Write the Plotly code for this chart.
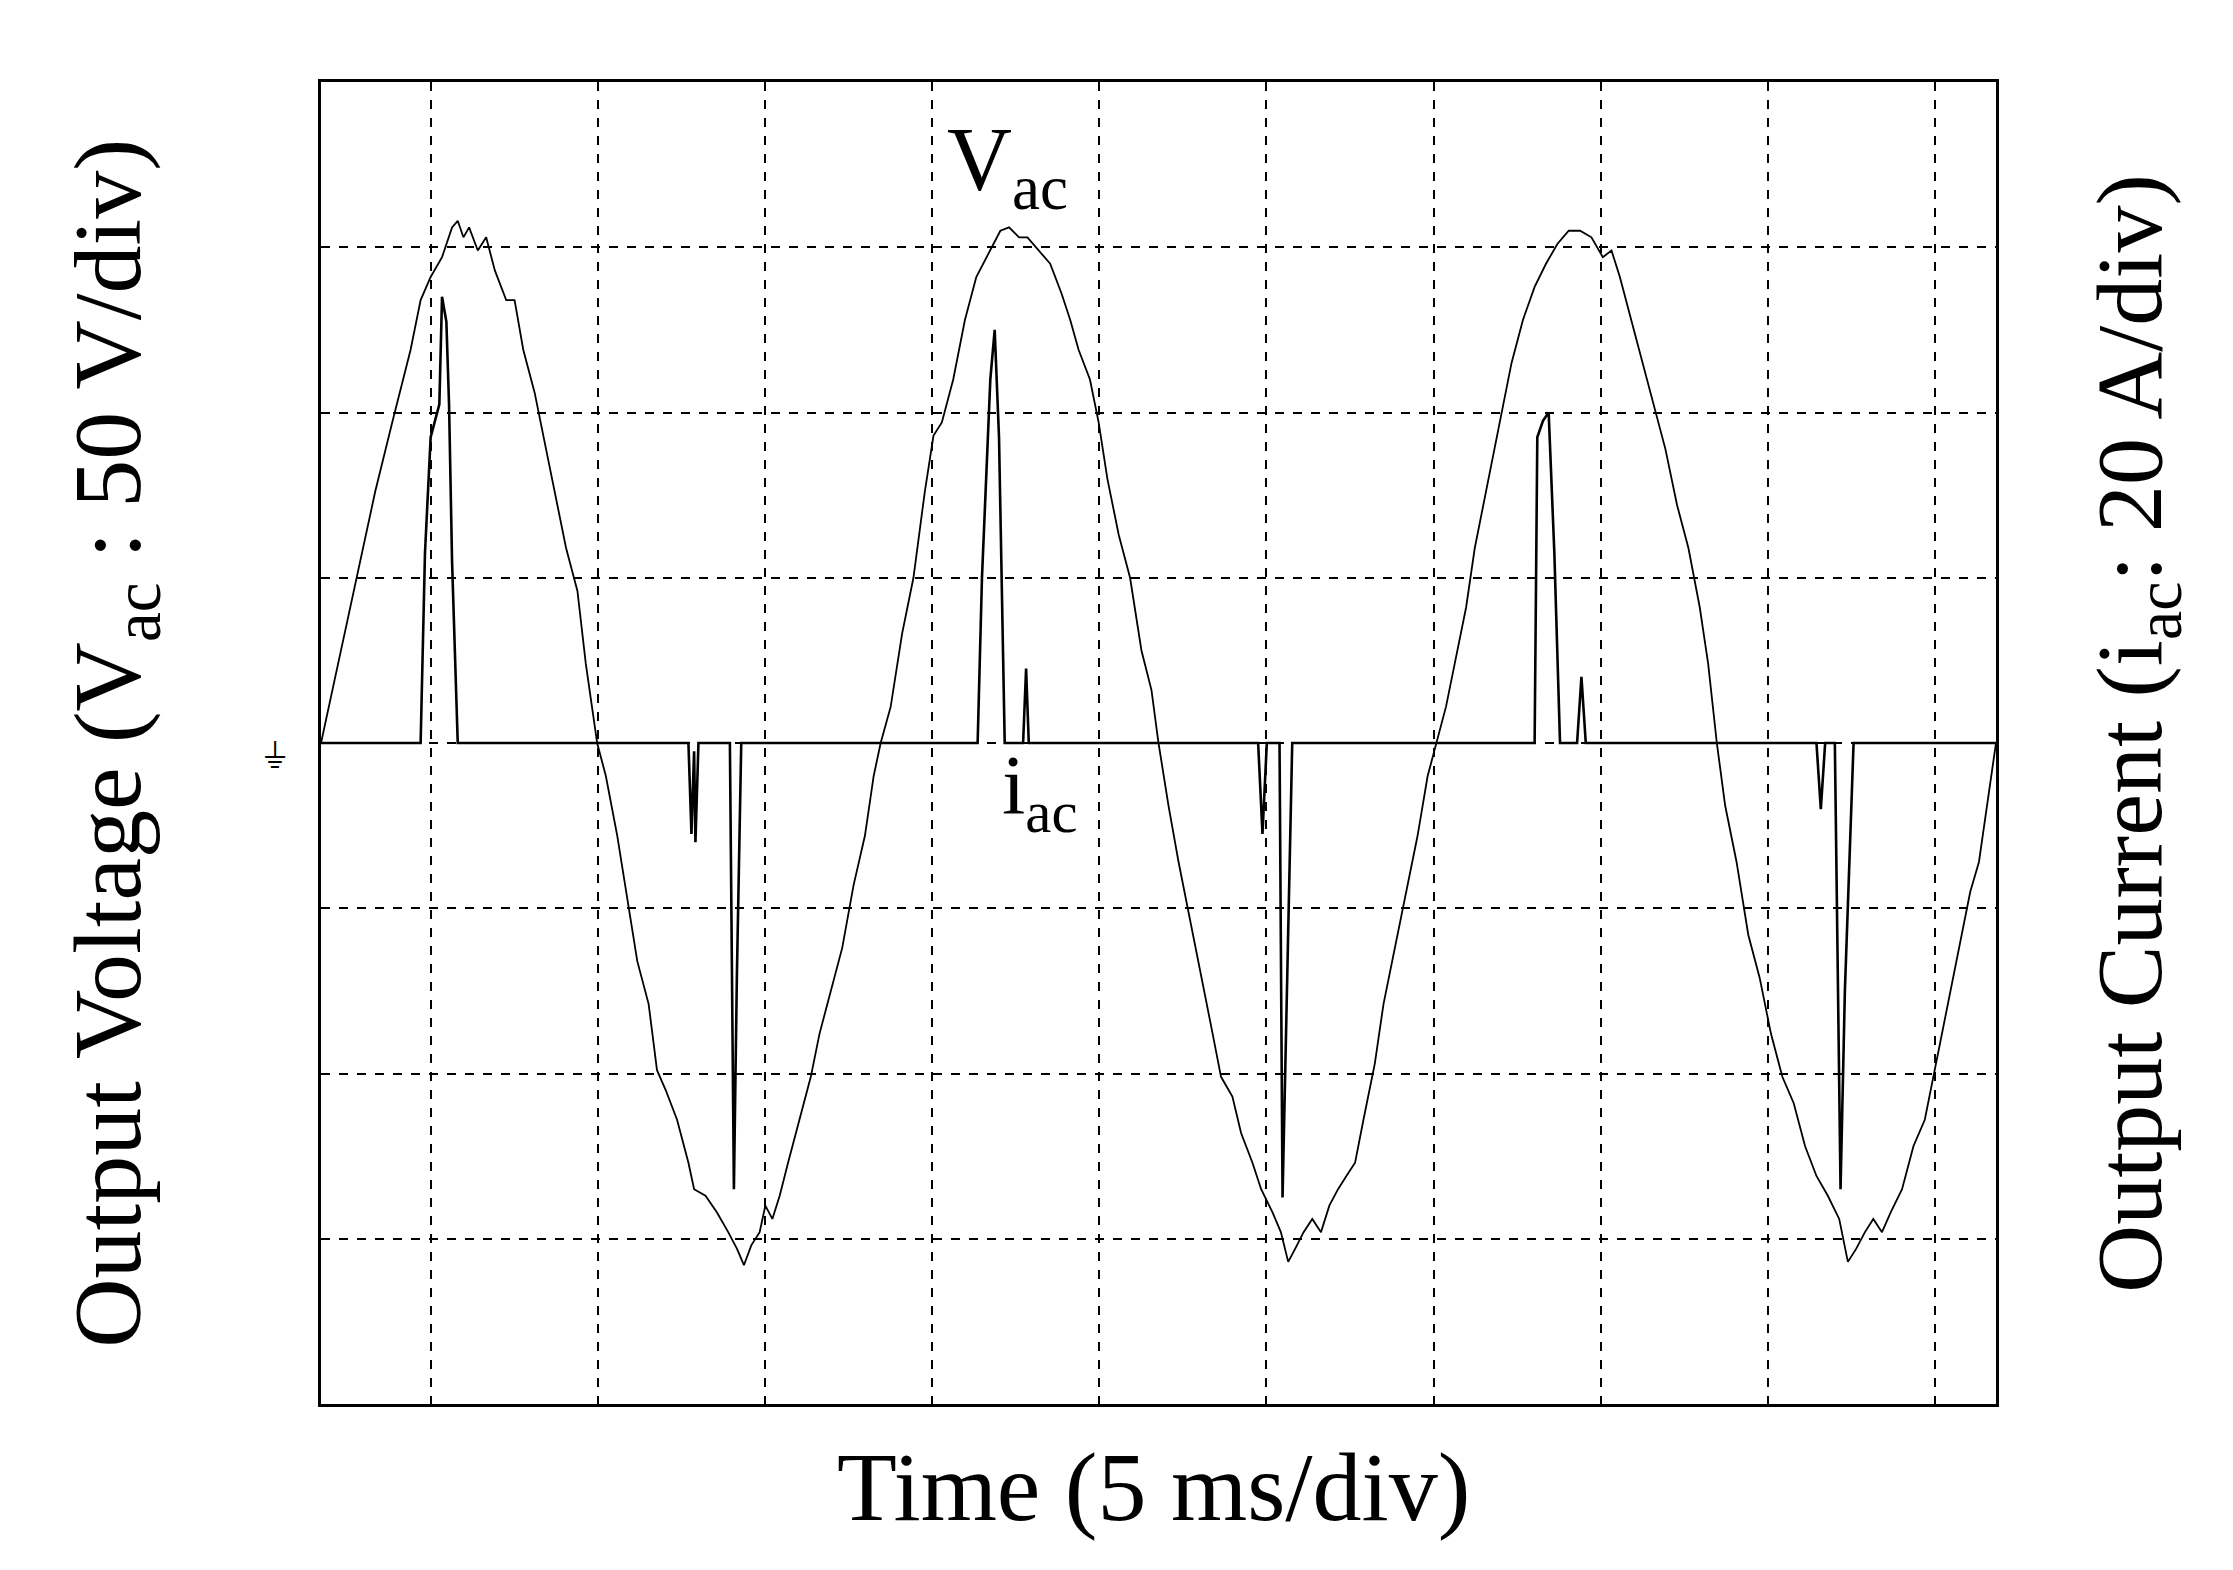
import plotly.graph_objects as go

# Voltage trace: time (ms), Vac (V)
t_v = [-3.28,-2.77,-2.22,-1.66,-1.15,-0.60,-0.30,0,0.34,0.64,0.81,0.98,1.15,1.41,1.66,1.92,2.26,2.51,2.77,3.11,3.45,3.71,4.05,4.39,4.64,4.98,
       5.24,5.58,5.92,6.18,6.52,6.77,7.03,7.37,7.71,7.88,8.22,8.56,8.90,9.16,9.37,9.59,9.84,10.01,10.22,10.44,10.69,11.03,11.37,11.63,11.97,12.31,12.65,12.99,13.25,13.46,
       13.76,14.10,14.44,14.78,15.04,15.29,15.63,15.98,16.32,16.74,17.04,17.30,17.60,17.85,18.19,18.53,18.87,19.13,19.38,19.72,19.98,20.24,20.58,20.92,21.26,21.56,21.77,
       22.07,22.37,22.71,23.05,23.39,23.64,23.98,24.24,24.58,24.84,25.18,25.43,25.65,25.86,26.11,26.37,26.63,26.88,27.14,27.39,27.65,27.90,28.24,28.50,28.84,29.18,29.52,29.82,30.08,
       30.37,30.63,30.97,31.23,31.65,31.99,32.33,32.67,33.02,33.36,33.70,34.04,34.38,34.72,35.06,35.32,35.57,35.91,36.25,36.59,36.93,37.28,37.62,37.96,38.21,38.47,
       38.72,39.06,39.41,39.75,40.09,40.43,40.77,41.11,41.45,41.79,42.13,42.39,42.64,42.90,43.15,43.41,43.67,44.01,44.35,44.69,45.03,45.37,45.71,46.05,46.31,46.56,46.82]
v_ac = [0,24,50,76,97,119,134,141,147,156,158,153,156,149,153,143,134,134,119,106,89,76,59,46,24,0,
        -10,-28,-49,-66,-79,-99,-105,-114,-127,-135,-137,-142,-148,-153,-158,-152,-148,-140,-144,-137,-127,-114,-101,-88,-75,-62,-43,-28,-10,0,
        11,33,50,76,93,97,110,128,141,149,155,156,153,153,149,145,136,128,119,110,97,80,63,50,28,16,0,
        -19,-36,-53,-71,-88,-101,-107,-118,-127,-135,-142,-148,-157,-153,-148,-144,-148,-140,-135,-131,-127,-114,-97,-79,-62,-45,-28,-10,0,
        11,24,41,59,80,97,115,128,138,145,151,155,155,153,147,149,141,128,115,102,89,72,59,41,24,0,
        -19,-36,-58,-71,-88,-101,-109,-122,-131,-137,-144,-157,-153,-148,-144,-148,-142,-135,-122,-114,-97,-79,-62,-45,-36,-19,0]

# Current trace: time (ms), iac (A)
t_i = [-3.28,-0.30,-0.17,0,0.26,0.34,0.47,0.55,0.64,0.81,
       7.71,7.80,7.88,7.92,8.01,8.95,9.07,9.16,9.29,
       16.36,16.49,16.74,16.87,17.00,17.17,17.72,17.81,17.89,
       24.75,24.88,25.01,25.39,25.48,25.60,25.77,
       33.02,33.10,33.27,33.44,33.61,33.78,34.29,34.42,34.55,
       41.45,41.58,41.71,42.00,42.17,42.30,42.56,46.82]
i_ac = [0,0,23,37,41,54,51,41,22,0,
        0,-11,-1,-12,0,0,-54,-28,0,
        0,20,44,50,37,0,0,9,0,
        0,-11,0,0,-55,-32,0,
        0,37,39,40,23,0,0,8,0,
        0,-8,0,0,-54,-30,0,0]

x_ticks = [0,5,10,15,20,25,30,35,40,45]
v_ticks = [-150,-100,-50,0,50,100,150]

serif = "Liberation Serif"
fig = go.Figure()
fig.add_trace(go.Scatter(x=t_v, y=v_ac, mode="lines", line=dict(color="black", width=1.8), showlegend=False))
fig.add_trace(go.Scatter(x=t_i, y=i_ac, mode="lines", yaxis="y2", line=dict(color="black", width=2.6), showlegend=False))

fig.update_layout(
    width=2233, height=1570, paper_bgcolor="white", plot_bgcolor="white",
    margin=dict(l=313, r=245, t=74, b=174),
    xaxis=dict(range=[-3.28, 46.82], tickvals=x_ticks, showticklabels=False, ticks="",
               showgrid=True, gridcolor="black", griddash="dash", gridwidth=1.8, zeroline=False,
               showline=True, linecolor="black", linewidth=2.5, mirror=True),
    yaxis=dict(range=[-200, 200], tickvals=v_ticks, showticklabels=False, ticks="",
               showgrid=True, gridcolor="black", griddash="dash", gridwidth=1.8, zeroline=False,
               showline=True, linecolor="black", linewidth=2.5, mirror=True),
    yaxis2=dict(range=[-80, 80], overlaying="y", side="right", showgrid=False,
                showticklabels=False, ticks="", zeroline=False),
    font=dict(family=serif, color="black"),
)
ann = [
    dict(text="Output Voltage (V<sub>ac</sub> : 50 V/div)", x=-0.161, y=0.50, textangle=-90, fs=96),
    dict(text="Output Current (i<sub>ac</sub>: 20 A/div)", x=1.12, y=0.507, textangle=-90, fs=94),
    dict(text="Time (5 ms/div)", x=0.497, y=-0.105, fs=98),
    dict(text="V<sub>ac</sub>", x=0.410, y=0.98, fs=90),
    dict(text="i<sub>ac</sub>", x=0.429, y=0.463, fs=84),
    dict(text="⏚", x=-0.036, y=0.49, fs=34),
]
for a in ann:
    fs = a.pop("fs")
    fig.add_annotation(xref="paper", yref="paper", showarrow=False,
                       font=dict(size=fs, family=serif, color="black"), **a)

fig.write_html("out.html")
